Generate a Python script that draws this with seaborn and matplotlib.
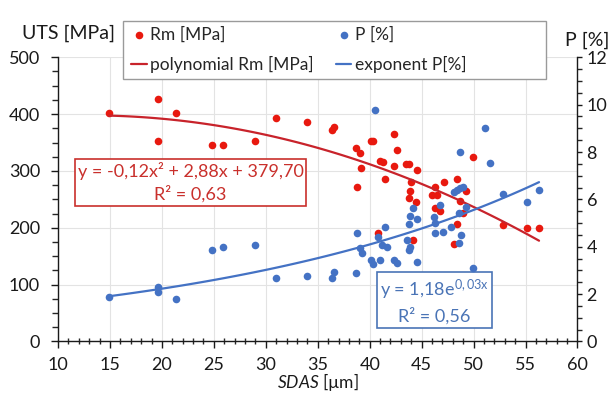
import numpy as np
import pandas as pd
import matplotlib.pyplot as plt
import seaborn as sns
from matplotlib.ticker import MultipleLocator
from matplotlib.patches import Rectangle

sns.set_style("white")
plt.rcParams['font.family'] = ['Lato', 'DejaVu Sans']
plt.rcParams['mathtext.fontset'] = 'custom'
plt.rcParams['mathtext.rm'] = 'Lato'
plt.rcParams['mathtext.it'] = 'Lato:italic'

# Rm [MPa] vs SDAS
sdas_rm = [14.9, 19.6, 19.6, 21.4, 24.8, 25.9, 29.0, 31.0, 34.0, 36.4,
           36.6, 38.7, 39.1, 39.2, 38.8, 40.1, 40.3, 40.8, 41.0, 41.3,
           41.5, 42.3, 42.6, 42.3, 43.5, 43.8, 44.6, 44.0, 43.9, 43.8,
           44.5, 44.2, 46.3, 46.5, 46.0, 46.3, 46.8, 47.2, 48.4, 48.4,
           48.1, 48.7, 49.3, 49.0, 49.9, 52.8, 55.1, 56.3]
rm = [402, 427, 353, 402, 346, 345, 353, 393, 387, 372,
      378, 340, 331, 305, 271, 353, 353, 190, 318, 315,
      285, 365, 337, 308, 312, 312, 302, 281, 264, 252,
      246, 179, 271, 258, 258, 234, 230, 281, 286, 206,
      172, 248, 264, 226, 325, 205, 200, 199]

# P [%] vs SDAS
sdas_p = [14.9, 19.6, 19.6, 21.4, 24.8, 25.9, 29.0, 31.0, 34.0, 36.4,
          36.6, 38.7, 38.8, 39.1, 39.3, 40.5, 40.1, 40.3, 40.8, 41.0,
          41.2, 41.7, 41.5, 42.3, 42.6, 43.6, 43.8, 43.9, 43.8, 43.9,
          44.2, 44.6, 44.6, 46.2, 46.3, 46.3, 46.8, 47.1, 47.8, 48.1,
          48.4, 48.7, 49.0, 48.7, 48.6, 48.8, 48.6, 49.3, 49.9, 51.1,
          51.6, 52.8, 55.1, 56.3]
p = [1.89, 2.29, 2.08, 1.78, 3.86, 3.98, 4.07, 2.67, 2.77, 2.67,
     2.95, 2.88, 4.57, 3.94, 3.72, 9.78, 3.44, 3.27, 4.43, 3.44,
     4.08, 4.00, 4.85, 3.44, 3.33, 4.29, 3.86, 4.00, 4.95, 5.30,
     5.62, 5.16, 3.37, 5.27, 5.02, 4.57, 5.76, 4.64, 4.85, 6.33,
     6.40, 6.47, 6.54, 8.02, 5.41, 4.50, 4.15, 5.69, 3.09, 9.03,
     7.53, 6.23, 5.90, 6.40]

eq_rm = "y = -0,12x² + 2,88x + 379,70\nR² = 0,63"
eq_p = "y = 1,18e$^{\\mathregular{0,03x}}$\nR² = 0,56"

red_dot = '#E8190F'
red_line = '#C8232B'
red_text = '#C9302C'
blue_dot = '#4472C4'
blue_text = '#4A74B6'
dark = '#1a1a1a'

fig = plt.figure(figsize=(6.15, 3.94), dpi=100)
ax = fig.add_axes([0.0943, 0.1333, 0.8447, 0.7213])
ax2 = ax.twinx()

sns.scatterplot(x=sdas_rm, y=rm, ax=ax, color=red_dot, s=30,
                linewidth=0, label='Rm [MPa]', legend=False)
sns.regplot(x=np.array(sdas_rm), y=np.array(rm), order=2, ci=None,
            scatter=False, ax=ax, color=red_line,
            line_kws={'linewidth': 1.6}, label='polynomial Rm [MPa]')

sns.scatterplot(x=sdas_p, y=p, ax=ax2, color=blue_dot, s=30,
                linewidth=0, label='P [%]', legend=False)
# exponential trend fitted on log(P)
b, a = np.polyfit(sdas_p, np.log(p), 1)
xs = np.linspace(min(sdas_p), max(sdas_p), 100)
sns.lineplot(x=xs, y=np.exp(a) * np.exp(b * xs), ax=ax2, color=blue_dot,
             linewidth=1.6, label='exponent P[%]', legend=False)

ax.set_xlim(10, 60)
ax.set_ylim(0, 500)
ax2.set_ylim(0, 12)
ax.xaxis.set_major_locator(MultipleLocator(5))
ax.xaxis.set_minor_locator(MultipleLocator(1))
ax.yaxis.set_major_locator(MultipleLocator(100))
ax.yaxis.set_minor_locator(MultipleLocator(25))
ax2.yaxis.set_major_locator(MultipleLocator(2))
ax2.yaxis.set_minor_locator(MultipleLocator(0.5))

ax.grid(True, which='major', color='#E3E3E3', linewidth=0.8)
ax.set_axisbelow(True)

for a_ in (ax, ax2):
    a_.spines['top'].set_visible(False)
ax.spines['right'].set_visible(False)
ax2.spines['left'].set_visible(False)
ax2.spines['bottom'].set_visible(False)
for sp in ('left', 'bottom'):
    ax.spines[sp].set_color(dark)
    ax.spines[sp].set_linewidth(1.0)
ax2.spines['right'].set_color(dark)
ax2.spines['right'].set_linewidth(1.0)

ax.tick_params(axis='y', which='major', direction='out', length=5, width=1,
               pad=8, labelsize=13, colors=dark, left=True)
ax.tick_params(axis='y', which='minor', direction='out', length=4, width=1,
               left=True)
ax.tick_params(axis='x', which='major', direction='out', length=5, width=1,
               pad=6, labelsize=13, colors=dark, bottom=True)
ax.tick_params(axis='x', which='minor', direction='inout', length=4, width=1,
               bottom=True)
ax2.tick_params(axis='y', which='major', direction='out', length=3.5, width=1,
                pad=3, labelsize=13, colors=dark, right=True)
ax2.tick_params(axis='y', which='minor', direction='out', length=3.5, width=1,
                right=True)

ax.set_xlabel('$\\mathit{SDAS}$ [µm]', fontsize=12.5, color=dark,
              labelpad=-1)
ax.set_ylabel('')
ax2.set_ylabel('')

fig.text(0.036, 0.916, 'UTS [MPa]', fontsize=14, va='center', ha='left',
         color=dark)
fig.text(0.955, 0.898, 'P [%]', fontsize=14, va='center', ha='center',
         color=dark)

ax.text(0.255, 0.56, eq_rm, transform=ax.transAxes, ha='center', va='center',
        multialignment='center', fontsize=13, color=red_text, linespacing=1.4,
        bbox=dict(boxstyle='square,pad=0.15', fc='white', ec=red_text, lw=1.2))
ax.text(0.725, 0.141, eq_p, transform=ax.transAxes, ha='center', va='center',
        multialignment='center', fontsize=13, color=blue_text, linespacing=1.4,
        bbox=dict(boxstyle='square,pad=0.15', fc='white', ec=blue_text, lw=1.2))

# legend frame drawn separately so the box keeps its wider size
frame = Rectangle((123 / 615, 1 - 79 / 394), 423 / 615, 58 / 394,
                  transform=fig.transFigure, facecolor='white',
                  edgecolor='#9a9a9a', linewidth=1.0, zorder=5)
fig.patches.append(frame)

h1, l1 = ax.get_legend_handles_labels()
h2, l2 = ax2.get_legend_handles_labels()
leg = fig.legend(h1 + h2, l1 + l2, ncol=2, loc='upper left',
                 bbox_to_anchor=(126 / 615, 1 - 21 / 394),
                 fontsize=12.5, frameon=False, handlelength=0.9,
                 handletextpad=0.2, borderpad=0.3, labelspacing=0.8,
                 columnspacing=1.26, borderaxespad=0)
leg.set_zorder(6)

plt.savefig('out.png', dpi=100)
